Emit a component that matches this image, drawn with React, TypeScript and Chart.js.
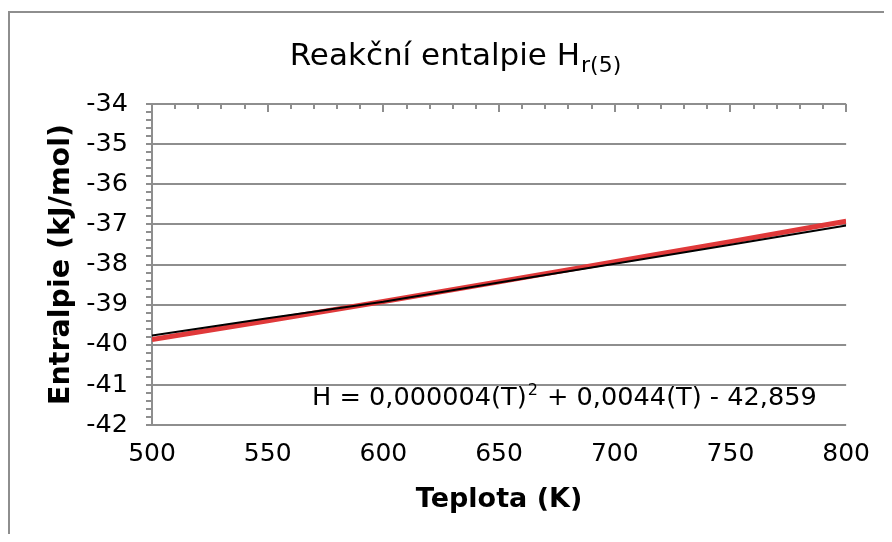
import React, { useEffect, useRef } from 'react';
import { Chart, registerables } from 'chart.js';

Chart.register(...registerables);

const temperatures = [500, 550, 600, 650, 700, 750, 800];
const enthalpyValues = [-39.77, -39.34, -38.93, -38.45, -37.98, -37.51, -37.03];
const trendValues = [-39.87, -39.40, -38.92, -38.43, -37.93, -37.43, -36.92];

const xMin = 500;
const xMax = 800;
const xStep = 50;
const xMinorStep = 10;
const yMin = -42;
const yMax = -34;
const yStep = 1;
const yMinorStep = 0.2;

const titleMain = 'Reakční entalpie H';
const titleSub = 'r(5)';
const eqPart1 = 'H = 0,000004(T)';
const eqSup = '2';
const eqPart2 = ' + 0,0044(T) - 42,859';
const xTitle = 'Teplota (K)';
const yTitle = 'Entralpie (kJ/mol)';

const FONT = 'Verdana, "DejaVu Sans", sans-serif';
const GRID = '#8e8e8e';

const decorPlugin = {
  id: 'decor',
  afterDraw(chart: any) {
    const ctx = chart.ctx;
    const xs = chart.scales.x;
    const ys = chart.scales.y;
    const area = chart.chartArea;
    ctx.save();
    ctx.strokeStyle = GRID;
    ctx.lineWidth = 2;
    // top minor/major ticks
    for (let v = xMin; v <= xMax + 1e-9; v += xMinorStep) {
      const x = Math.round(xs.getPixelForValue(v));
      const major = Math.abs((v - xMin) % xStep) < 1e-9;
      ctx.beginPath();
      ctx.moveTo(x, area.top);
      ctx.lineTo(x, area.top + (major ? 8 : 5));
      ctx.stroke();
    }
    // left ticks
    const n = Math.round((yMax - yMin) / yMinorStep);
    for (let i = 0; i <= n; i++) {
      const v = yMin + i * yMinorStep;
      const y = Math.round(ys.getPixelForValue(v));
      ctx.beginPath();
      ctx.moveTo(area.left - 6, y);
      ctx.lineTo(area.left, y);
      ctx.stroke();
    }
    // title
    ctx.fillStyle = '#000';
    ctx.textBaseline = 'alphabetic';
    ctx.textAlign = 'left';
    ctx.font = `31px ${FONT}`;
    const w1 = ctx.measureText(titleMain).width;
    ctx.font = `22px ${FONT}`;
    const w2 = ctx.measureText(titleSub).width;
    const cx = 445;
    const start = cx - (w1 + w2) / 2;
    ctx.font = `31px ${FONT}`;
    ctx.fillText(titleMain, start, 52);
    ctx.font = `22px ${FONT}`;
    ctx.fillText(titleSub, start + w1 + 1, 59);
    // equation
    ctx.font = `25.6px ${FONT}`;
    const ex = 302;
    const ey = 392;
    ctx.fillText(eqPart1, ex, ey);
    const e1 = ctx.measureText(eqPart1).width;
    ctx.font = `16px ${FONT}`;
    ctx.fillText(eqSup, ex + e1 + 1, ey - 10);
    const e2 = ctx.measureText(eqSup).width;
    ctx.font = `25.6px ${FONT}`;
    ctx.fillText(eqPart2, ex + e1 + e2 + 2, ey);
    ctx.restore();
  },
};

export default function App() {
  const ref = useRef<HTMLCanvasElement | null>(null);
  useEffect(() => {
    const canvas = ref.current;
    if (!canvas) return;
    const chart = new Chart(canvas, {
      type: 'line',
      data: {
        datasets: [
          {
            label: 'Entalpie',
            data: temperatures.map((t, i) => ({ x: t, y: enthalpyValues[i] })),
            borderColor: '#000000',
            borderWidth: 2,
            pointRadius: 0,
            tension: 0,
          },
          {
            label: 'Trend',
            data: temperatures.map((t, i) => ({ x: t, y: trendValues[i] })),
            borderColor: '#e0393a',
            borderWidth: 5,
            pointRadius: 0,
            cubicInterpolationMode: 'monotone',
          },
        ],
      },
      options: {
        responsive: false,
        animation: false,
        events: [],
        layout: { padding: { left: 0, top: 91, right: 36, bottom: 0 } },
        plugins: {
          legend: { display: false },
          tooltip: { enabled: false },
          title: { display: false },
        },
        scales: {
          x: {
            type: 'linear',
            position: 'bottom',
            min: xMin,
            max: xMax,
            afterFit: (s: any) => { s.height = 109; },
            ticks: {
              stepSize: xStep,
              color: '#000',
              padding: 14,
              font: { family: FONT, size: 25 },
              maxRotation: 0,
            },
            grid: { display: false, drawTicks: false },
            border: { display: false },
            title: {
              display: true,
              text: xTitle,
              color: '#000',
              font: { family: FONT, size: 27, weight: 'bold' },
              padding: { top: 0, bottom: 18 },
            },
          },
          y: {
            type: 'linear',
            min: yMin,
            max: yMax,
            afterFit: (s: any) => { s.width = 142; },
            ticks: {
              stepSize: yStep,
              color: '#000',
              padding: 24,
              font: { family: FONT, size: 25.5 },
            },
            grid: { color: GRID, lineWidth: 2, drawTicks: false },
            border: { display: true, color: GRID, width: 2 },
            title: {
              display: true,
              text: yTitle,
              color: '#000',
              font: { family: FONT, size: 28.5, weight: 'bold' },
              padding: { top: 34, bottom: 0 },
            },
          },
        },
      },
      plugins: [decorPlugin],
    } as any);
    return () => chart.destroy();
  }, []);
  return (
    <div style={{ paddingTop: 3 }}>
      <div
        style={{
          width: 876,
          height: 523,
          boxSizing: 'border-box',
          borderLeft: `2px solid ${GRID}`,
          borderTop: `2px solid ${GRID}`,
          background: '#fff',
        }}
      >
        <canvas ref={ref} width={874} height={521} style={{ display: 'block' }} />
      </div>
    </div>
  );
}
